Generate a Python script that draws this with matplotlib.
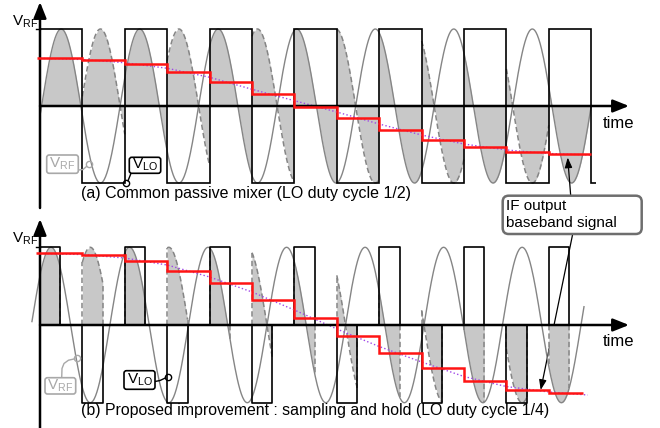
import numpy as np
import matplotlib
matplotlib.use("Agg")
import matplotlib.pyplot as plt
from matplotlib.transforms import Affine2D
from matplotlib.patches import FancyBboxPatch

plt.rcParams["font.family"] = ["Liberation Sans", "DejaVu Sans"]
plt.rcParams["mathtext.fontset"] = "custom"
plt.rcParams["mathtext.rm"] = "Liberation Sans"
plt.rcParams["mathtext.it"] = "Liberation Sans"

# ---------------- data (time in LO half-periods, voltage normalised) ----------
rf_lo_ratio = 1.08            # f_RF / f_LO
rf_first_peak_a = 0.50
rf_first_peak_b = 0.26
rf_span_a = (0.0, 13.0)
rf_span_b = (-0.19, 12.83)

lo_levels_a = [1, -1, 1, -1, 1, -1, 1, -1, 1, -1, 1, -1, 1, -1]
lo_edges_a = [0, 1, 2, 3, 4, 5, 6, 7, 8, 9, 10, 11, 12, 13, 13.12]

lo_pulse_signs_b = [1, -1, 1, -1, 1, -1, 1, -1, 1, -1, 1, -1, 1]
lo_pulse_starts_b = [0, 1, 2, 3, 4, 5, 6, 7, 8, 9, 10, 11, 12]
lo_pulse_width_b = 0.48

if_steps_a = [0.62, 0.597, 0.545, 0.437, 0.312, 0.152, -0.009,
              -0.16, -0.316, -0.442, -0.537, -0.601, -0.627]
if_step_edges_a = [-0.06, 1, 2, 3, 4, 5, 6, 7, 8, 9, 10, 11, 12, 13]
if_steps_b = [0.923, 0.901, 0.828, 0.699, 0.537, 0.322, 0.094,
              -0.142, -0.364, -0.557, -0.72, -0.836, -0.879]
if_step_edges_b = [-0.1, 1, 2, 3, 4, 5, 6, 7, 8, 9, 10, 11, 12, 12.81]

envelope_t_a = [0, 1, 2, 3, 4, 5, 6, 7, 8, 9, 10, 11, 12, 13]
envelope_a = [0.619, 0.604, 0.562, 0.49, 0.373, 0.217, 0.069,
              -0.078, -0.234, -0.377, -0.494, -0.571, -0.617, -0.636]
envelope_t_b = [0, 1, 2, 3, 4, 5, 6, 7, 8, 9, 10, 11, 12, 12.92]
envelope_b = [0.92, 0.907, 0.862, 0.772, 0.618, 0.425, 0.193,
              -0.051, -0.277, -0.476, -0.663, -0.792, -0.862, -0.901]

caption_a = "(a) Common passive mixer (LO duty cycle 1/2)"
caption_b = "(b) Proposed improvement : sampling and hold (LO duty cycle 1/4)"
axis_y_label = r"$\mathrm{V_{RF}}$"
axis_x_label = "time"
rf_tag = r"$\mathrm{V_{RF}}$"
lo_tag = r"$\mathrm{V_{LO}}$"
if_tag = "IF output\nbaseband signal"

# ---------------- styles ------------------------------------------------------
C_RF = "#858585"
C_FILL = "#c8c8c8"
C_RED = "#ff1414"
C_PURPLE = "#a048e8"
C_TAG = "#a8a8a8"

fig = plt.figure(figsize=(6.6, 4.28), dpi=100)
P = Affine2D().scale(1 / 660, -1 / 428).translate(0, 1) + fig.transFigure

ax_a = fig.add_axes([0, 0.5, 1, 0.5])
ax_b = fig.add_axes([0, 0.0, 1, 0.5])
X0, XS = 40.0, 42.4
ax_a.set_xlim(-X0 / XS, (660 - X0) / XS)
ax_a.set_ylim((106 - 214) / 77.0, 106 / 77.0)
ax_b.set_xlim(-X0 / XS, (660 - X0) / XS)
ax_b.set_ylim((325 - 428) / 77.7, (325 - 214) / 77.7)
for ax in (ax_a, ax_b):
    ax.axis("off")


def rf(t, peak):
    return np.cos(np.pi * rf_lo_ratio * (t - peak))


def axes_arrows(ax, v_bottom, v_top):
    head = dict(arrowstyle="-|>,head_length=0.8,head_width=0.32",
                mutation_scale=12, lw=1.8, color="k", shrinkA=0, shrinkB=0)
    ax.annotate("", xy=(0, v_top), xytext=(0, v_bottom), arrowprops=head,
                annotation_clip=False, zorder=6)
    ax.annotate("", xy=((629 - X0) / XS, 0), xytext=(0, 0), arrowprops=head,
                annotation_clip=False, zorder=6)
    ax.plot([-0.1, 0], [1, 1], color="k", lw=1.0, zorder=6)


dash = dict(color=C_RF, lw=1.1, ls=(0, (3.5, 2)), zorder=2)

# ---------------- panel (a) ---------------------------------------------------
pk = rf_first_peak_a
for k, lvl in enumerate(lo_levels_a):
    a0 = lo_edges_a[k]
    a1 = min(lo_edges_a[k + 1], rf_span_a[1])
    if a1 <= a0:
        continue
    t = np.linspace(a0, a1, 80)
    ax_a.fill_between(t, lvl * rf(t, pk), 0, color=C_FILL, lw=0, zorder=1)
    if lvl < 0:
        ax_a.plot(t, -rf(t, pk), **dash)
t = np.linspace(*rf_span_a, 800)
ax_a.plot(t, rf(t, pk), color=C_RF, lw=1.0, zorder=2)
ax_a.stairs(lo_levels_a, lo_edges_a, baseline=None, color="k", lw=1.2, zorder=3)
ax_a.plot(envelope_t_a, envelope_a, color=C_PURPLE, lw=1.0, ls=":", zorder=5)
ax_a.stairs(if_steps_a, if_step_edges_a, baseline=None, color=C_RED, lw=1.8, zorder=7)
axes_arrows(ax_a, (106 - 208) / 77.0, (106 - 2) / 77.0)

# ---------------- panel (b) ---------------------------------------------------
pk = rf_first_peak_b
for k0, s in zip(lo_pulse_starts_b, lo_pulse_signs_b):
    k1 = k0 + lo_pulse_width_b
    t = np.linspace(k0, k1, 60)
    prod = s * rf(t, pk)
    ax_b.fill_between(t, prod, 0, color=C_FILL, lw=0, zorder=1)
    if s < 0:
        ax_b.plot(t, prod, **dash)
    for te in (k0, k1):
        ax_b.plot([te, te], [0, s * rf(te, pk)], **dash)
    ax_b.plot([k0, k0, k1, k1], [0, s, s, 0], color="k", lw=1.2, zorder=3)
t = np.linspace(*rf_span_b, 800)
ax_b.plot(t, rf(t, pk), color=C_RF, lw=1.0, zorder=2)
ax_b.plot(envelope_t_b, envelope_b, color=C_PURPLE, lw=1.0, ls=":", zorder=5)
ax_b.stairs(if_steps_b, if_step_edges_b, baseline=None, color=C_RED, lw=1.8, zorder=7)
axes_arrows(ax_b, (325 - 428) / 77.7, (325 - 219) / 77.7)

# ---------------- texts -------------------------------------------------------
fig.text(12, 26, axis_y_label, transform=P, fontsize=11, ha="left", va="baseline")
fig.text(12, 243, axis_y_label, transform=P, fontsize=11, ha="left", va="baseline")
fig.text(603, 128, axis_x_label, transform=P, fontsize=12, ha="left", va="baseline")
fig.text(603, 346, axis_x_label, transform=P, fontsize=12, ha="left", va="baseline")
fig.text(81, 198.5, caption_a, transform=P, fontsize=11.5, ha="left", va="baseline")
fig.text(81, 414.8, caption_b, transform=P, fontsize=11.4, ha="left", va="baseline")


def tag(x0, y0, x1, y1, label, color, r=2.5, lw=1.2, fs=11, ha="center", tx=None,
        tcolor=None):
    box = FancyBboxPatch((x0, y0), x1 - x0, y1 - y0,
                         boxstyle=f"round,pad=0,rounding_size={r}",
                         transform=P, fc="white", ec=color, lw=lw, zorder=20)
    fig.add_artist(box)
    if tx is None:
        tx = (x0 + x1) / 2
    fig.text(tx, (y0 + y1) / 2, label, transform=P, fontsize=fs,
             color=tcolor or color, ha=ha, va="center", zorder=21, linespacing=1.25)


def circle(x, y, color):
    fig.add_artist(plt.Line2D([x], [y], transform=P, marker="o", ms=4.5, mfc="none",
                              mec=color, mew=1.0, zorder=22))


def link(xs, ys, color):
    fig.add_artist(plt.Line2D(xs, ys, transform=P, color=color, lw=1.0, zorder=19))


# (a) tags
tag(46.7, 155, 78.3, 173.3, rf_tag, C_TAG)
link([78.3, 83, 86.5], [170, 169.5, 166.5], C_TAG)
circle(89.3, 164.5, C_TAG)
tag(129.3, 157.3, 160.7, 173.3, lo_tag, "k")
link([131, 128], [173.3, 180.8], "k")
circle(125.7, 183.3, "k")
# (b) tags
tag(45, 377.7, 75.7, 394, rf_tag, C_TAG)
link([61.7, 62.0, 64.0, 68.5, 74.8], [377.7, 368.5, 363.5, 360.2, 358.8], C_TAG)
circle(77.3, 358.3, C_TAG)
tag(124, 370.7, 155, 389.3, lo_tag, "k")
link([155, 160, 165.3], [381.5, 380.5, 378], "k")
circle(167.7, 376.7, "k")

# IF box
tag(502.7, 195.7, 641.7, 234, if_tag, "#6e6e6e", r=6, lw=1.8, fs=11, ha="left",
    tx=505.5, tcolor="k")
arrow = dict(arrowstyle="-|>,head_length=0.6,head_width=0.22", mutation_scale=10,
             lw=0.9, color="k", shrinkA=0, shrinkB=0)
ax_a.annotate("", xy=(567.7, 157.5), xytext=(570.7, 195.7), xycoords=P, textcoords=P,
              arrowprops=arrow, annotation_clip=False, zorder=18)
ax_a.annotate("", xy=(540.7, 390), xytext=(572.7, 234), xycoords=P, textcoords=P,
              arrowprops=arrow, annotation_clip=False, zorder=18)

fig.savefig("out.png", dpi=100)
